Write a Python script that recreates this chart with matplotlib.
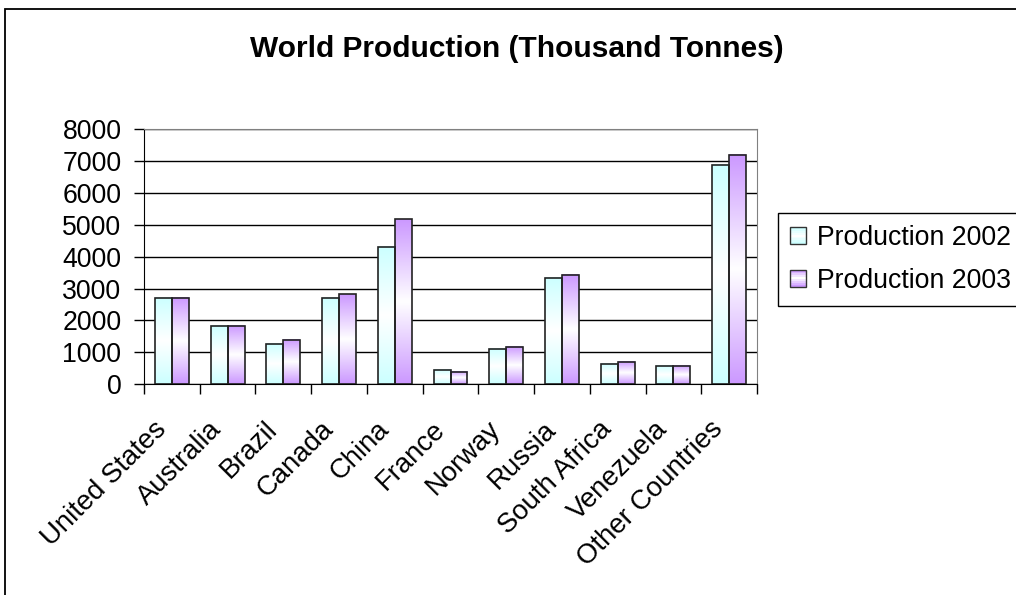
import matplotlib.pyplot as plt
import numpy as np
from matplotlib.patches import Rectangle
from matplotlib.legend_handler import HandlerBase
from matplotlib.colors import to_rgb
from matplotlib.transforms import ScaledTranslation

plt.rcParams['font.family'] = ['Liberation Sans', 'DejaVu Sans']

countries = ['United States', 'Australia', 'Brazil', 'Canada', 'China', 'France',
             'Norway', 'Russia', 'South Africa', 'Venezuela', 'Other Countries']
prod_2002 = [2700, 1820, 1270, 2700, 4300, 460, 1100, 3340, 650, 580, 6880]
prod_2003 = [2700, 1820, 1400, 2820, 5170, 400, 1160, 3420, 700, 580, 7190]
series = ['Production 2002', 'Production 2003']
end_colors = ['#ccffff', '#cc99ff']

W, H = 1016, 595
fs = 19.2


def ramp(c, n=64):
    # end colour at top and bottom, white through the middle
    t = np.abs(np.linspace(-1, 1, n))[:, None]
    return (1 - t) + t * np.array(to_rgb(c))


class GradientHandler(HandlerBase):
    def create_artists(self, legend, orig_handle, xdescent, ydescent,
                       width, height, fontsize, trans):
        cols = ramp(orig_handle.get_facecolor(), n=9)
        x0, y0 = -xdescent, -ydescent
        arts = [Rectangle((x0, y0 + i * height / 9), width, height / 9,
                          facecolor=c, edgecolor='none', transform=trans)
                for i, c in enumerate(cols)]
        arts.append(Rectangle((x0, y0), width, height, fill=False,
                              edgecolor='#333333', lw=1, transform=trans))
        return arts


fig = plt.figure(figsize=(W / 100, H / 100), dpi=100)
ax = fig.add_axes([144 / W, 1 - 384.3 / H, (757 - 144) / W, (384.3 - 129) / H])

x = np.arange(len(countries))
w = 0.305
handles = []
for k, (vals, col) in enumerate(zip([prod_2002, prod_2003], end_colors)):
    img = ramp(col)[:, None, :]
    xs = x + (k - 1) * w
    for x0, v in zip(xs, vals):
        ax.imshow(img, extent=[x0, x0 + w, 0, v], aspect='auto',
                  interpolation='bilinear', zorder=2)
    ax.bar(xs, vals, w, align='edge', fill=False, edgecolor='#222222',
           lw=1.2, zorder=3)
    handles.append(Rectangle((0, 0), 1, 1, facecolor=col))

ax.set_xlim(-0.5, len(countries) - 0.5)
ax.set_ylim(0, 8000)
ax.set_yticks(np.arange(0, 8001, 1000))
ax.yaxis.grid(True, color='black', lw=1)
ax.set_axisbelow(True)
for s in ['top', 'right']:
    ax.spines[s].set_color('#808080')
for s in ['left', 'bottom']:
    ax.spines[s].set_color('black')

ax.set_xticks(x, countries, rotation=45, ha='right', va='top',
              rotation_mode='anchor', fontsize=19.8)
ax.set_xticks(np.arange(-0.5, len(countries)), minor=True)
ax.tick_params(axis='x', which='major', length=0, pad=23)
ax.tick_params(axis='x', which='minor', length=7.2, width=1, direction='out')
ax.tick_params(axis='y', length=7.2, width=1, direction='out', pad=9,
               labelsize=fs)
# nudge the slanted names so they end just left of each category centre
shift = ScaledTranslation(-19 / 100, 0, fig.dpi_scale_trans)
for lab in ax.get_xticklabels():
    lab.set_transform(lab.get_transform() + shift)

fig.text(517 / W, 1 - 57 / H, 'World Production (Thousand Tonnes)',
         ha='center', va='baseline', fontsize=21.5, fontweight='bold')

leg = ax.legend(handles, series, handler_map={Rectangle: GradientHandler()},
                loc='upper left', bbox_to_anchor=(778 / W, 1 - 213 / H),
                bbox_transform=fig.transFigure, borderaxespad=0,
                fontsize=fs, handlelength=0.6, handleheight=0.6,
                handletextpad=0.4, labelspacing=0.62, borderpad=0.45,
                fancybox=False, framealpha=1, edgecolor='black')
leg.get_frame().set_linewidth(1)

# chart-area border, runs off the right and bottom edges
fig.add_artist(Rectangle((5 / W, -0.5), 2, 1 - 9 / H + 0.5,
                         transform=fig.transFigure, fill=False,
                         edgecolor='black', lw=1.3))

fig.savefig('out.png', dpi=100)
